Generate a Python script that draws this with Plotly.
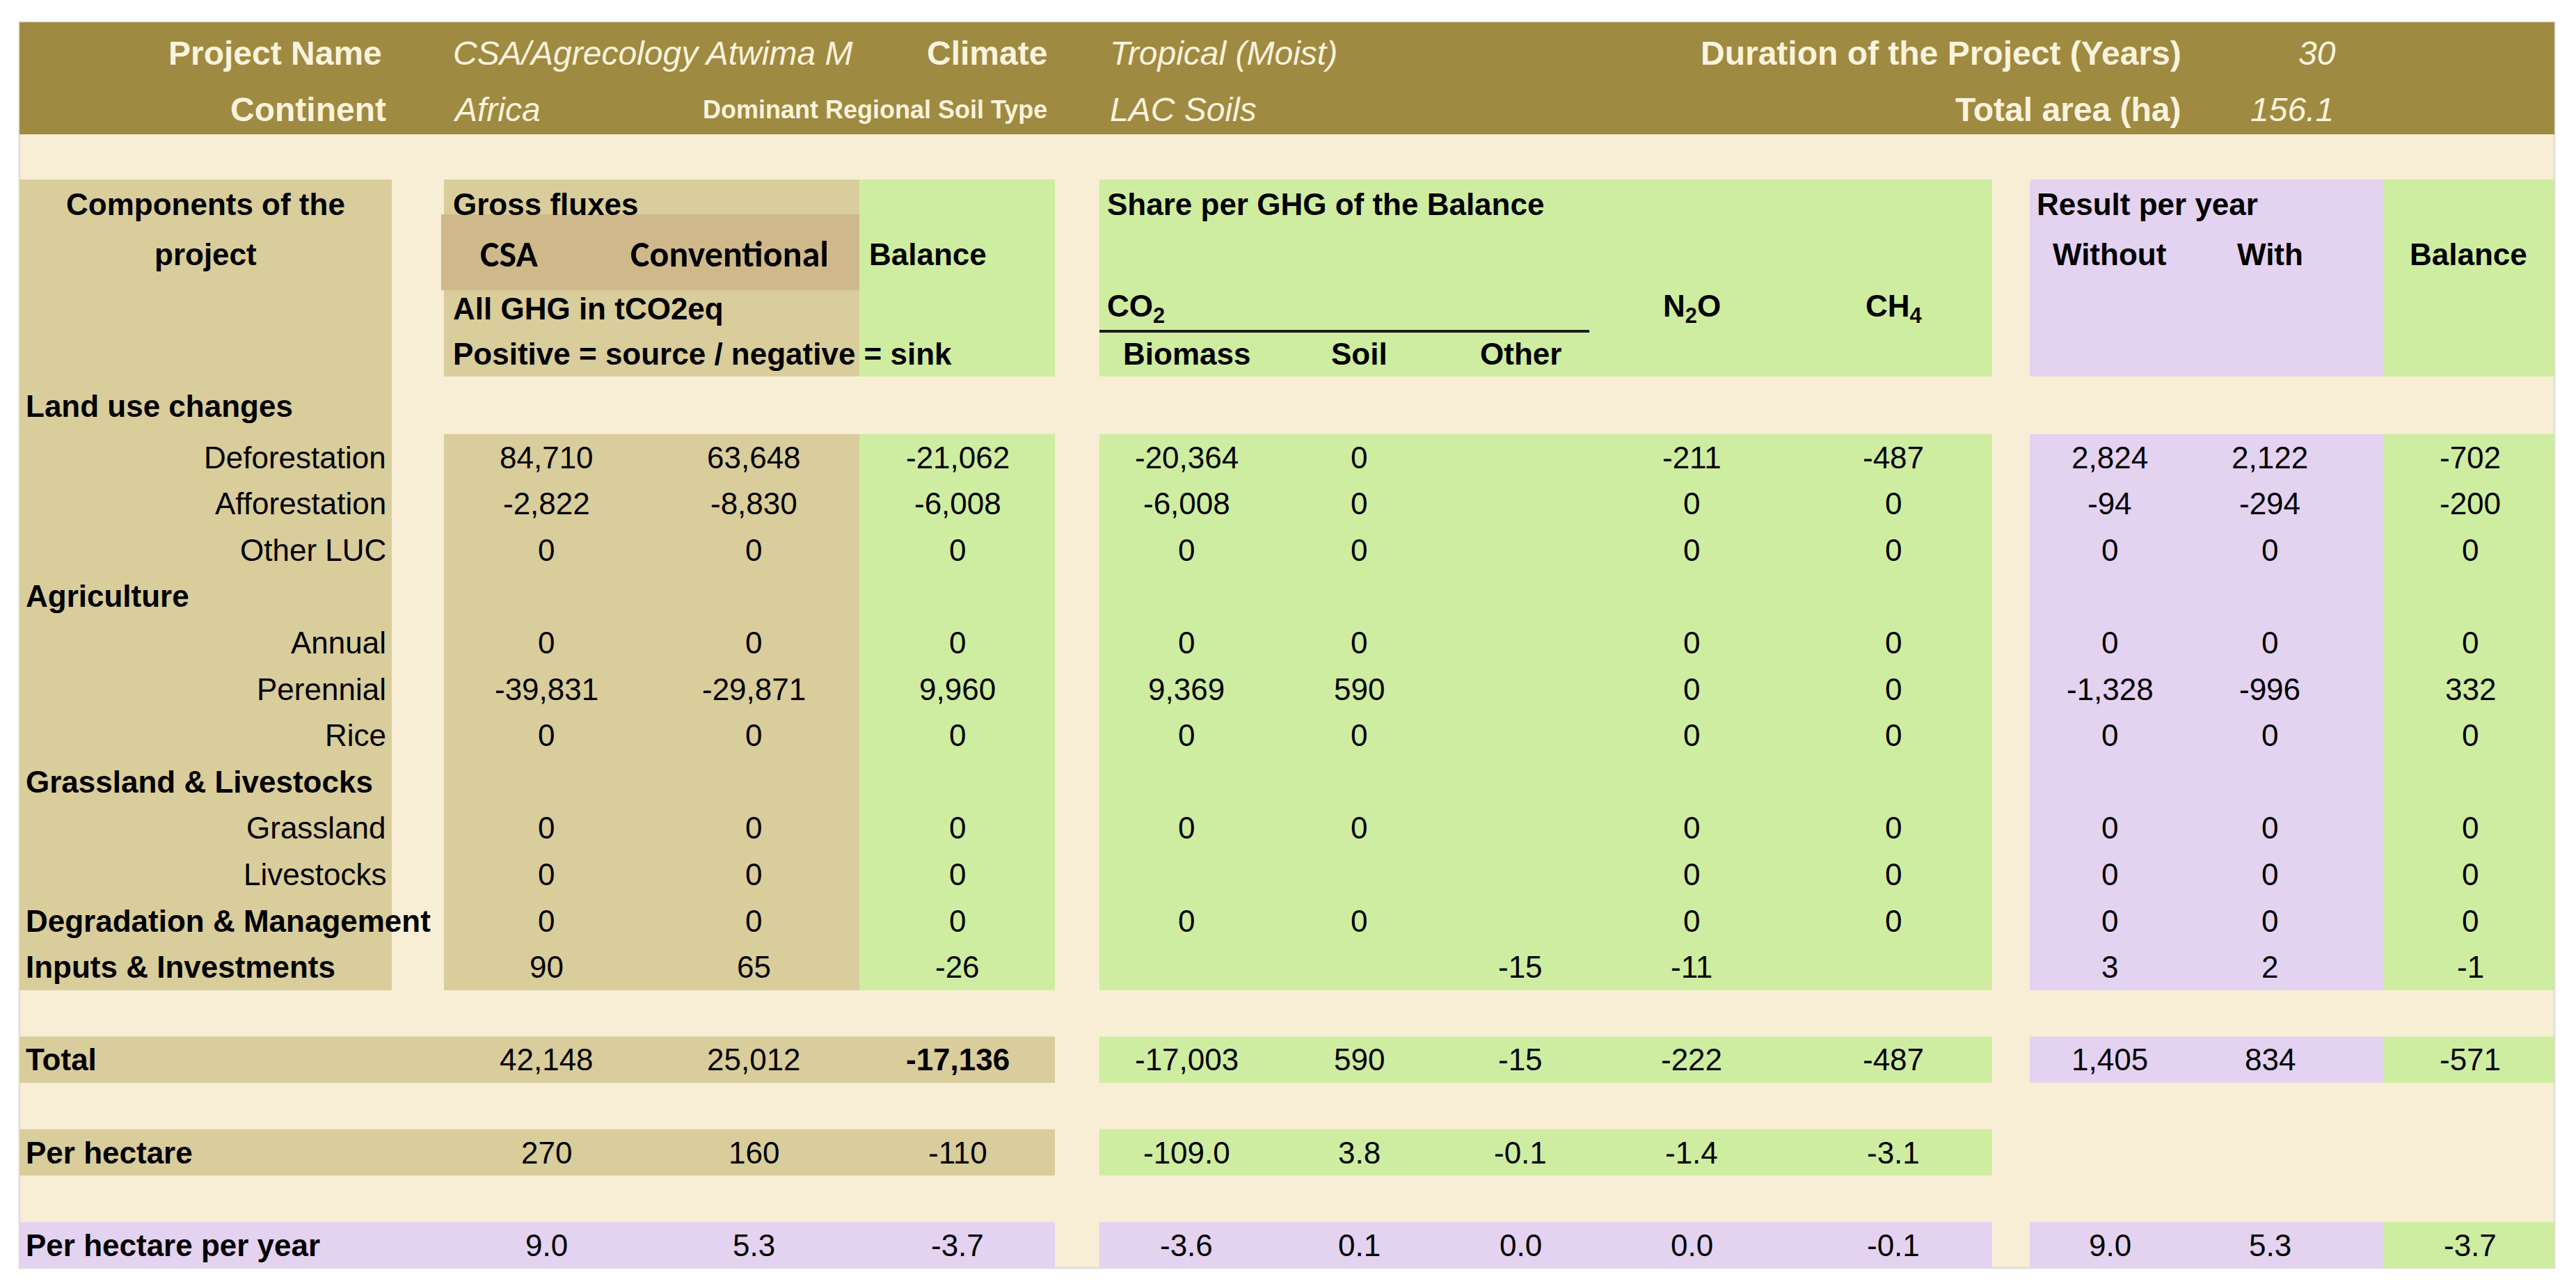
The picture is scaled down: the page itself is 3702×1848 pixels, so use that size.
import plotly.graph_objects as go

# --- project header -------------------------------------------------------
project_name = "CSA/Agrecology Atwima M"
continent = "Africa"
climate = "Tropical (Moist)"
soil_type = "LAC Soils"
duration_years = 30
total_area_ha = 156.1

# --- components (first entry is the "Land use changes" group row) ---------
components = ["Land use changes", "Deforestation", "Afforestation", "Other LUC",
              "Agriculture", "Annual", "Perennial", "Rice",
              "Grassland & Livestocks", "Grassland", "Livestocks",
              "Degradation & Management", "Inputs & Investments"]
is_group = [True, False, False, False, True, False, False, False,
            True, False, False, True, True]

# gross fluxes, all GHG in tCO2eq
csa = [None, 84710, -2822, 0, None, 0, -39831, 0, None, 0, 0, 0, 90]
conventional = [None, 63648, -8830, 0, None, 0, -29871, 0, None, 0, 0, 0, 65]
balance = [None, -21062, -6008, 0, None, 0, 9960, 0, None, 0, 0, 0, -26]

# share per GHG of the balance
co2_biomass = [None, -20364, -6008, 0, None, 0, 9369, 0, None, 0, None, 0, None]
co2_soil = [None, 0, 0, 0, None, 0, 590, 0, None, 0, None, 0, None]
co2_other = [None, None, None, None, None, None, None, None, None, None, None, None, -15]
n2o = [None, -211, 0, 0, None, 0, 0, 0, None, 0, 0, 0, -11]
ch4 = [None, -487, 0, 0, None, 0, 0, 0, None, 0, 0, 0, None]

# result per year
year_without = [None, 2824, -94, 0, None, 0, -1328, 0, None, 0, 0, 0, 3]
year_with = [None, 2122, -294, 0, None, 0, -996, 0, None, 0, 0, 0, 2]
year_balance = [None, -702, -200, 0, None, 0, 332, 0, None, 0, 0, 0, -1]

# summary rows (same column order as above; None = empty)
total_row = [42148, 25012, -17136, -17003, 590, -15, -222, -487, 1405, 834, -571]
per_ha_row = [270, 160, -110, -109.0, 3.8, -0.1, -1.4, -3.1, None, None, None]
per_ha_year_row = [9.0, 5.3, -3.7, -3.6, 0.1, 0.0, 0.0, -0.1, 9.0, 5.3, -3.7]

# --- look ------------------------------------------------------------------
OLIVE = "#9F8A42"
CREAM = "#F8EED6"
TAN = "#D9CD9B"
TAN_DARK = "#CFB98B"
GREEN = "#CFEDA1"
LILAC = "#E4D2F1"
HEAD_TXT = "#FBF3DC"
FONT = "Liberation Sans, Arial, sans-serif"
FS = 44       # body text
FS_HEAD = 48  # olive header band

W, H = 3702, 1848
PAD = 8  # browser body margin, the axes are set so data units = page pixels
# column blocks (pixels of the page)
LAB = (28, 563)
GROSS = (638, 1235)
BAL = (1235, 1516)
SHARE = (1580, 2863)
YEAR = (2917, 3426)
YBAL = (3426, 3671)
# value column centres
col_x = [785, 1083, 1376, 1705, 1953, 2185, 2431, 2721, 3032, 3262, 3550]

TOP, BOTTOM = 32, 1822
HEAD_BAND = (32, 193)
HEAD_BLOCK = (258, 541)
ROW_H = 66.6
FIRST_Y = 657  # centre of the Deforestation row
head_y = [293, 365, 443, 508]


def row_y(k):
    return FIRST_Y + ROW_H * k


fig = go.Figure()
fig.add_trace(go.Scatter(x=[PAD, W - PAD], y=[PAD, H - PAD], mode="markers",
                         marker=dict(opacity=0, size=1), hoverinfo="skip", showlegend=False))

shapes = []


def box(x0, x1, y0, y1, color):
    shapes.append(dict(type="rect", xref="x", yref="y", x0=x0, x1=x1, y0=y0, y1=y1,
                       fillcolor=color, line=dict(width=0), layer="below"))


# page background and header band
shapes.append(dict(type="rect", xref="x", yref="y", x0=LAB[0], x1=YBAL[1], y0=TOP, y1=BOTTOM,
                   fillcolor=CREAM, line=dict(color="#E2E0DA", width=3), layer="below"))
box(LAB[0], YBAL[1], HEAD_BAND[0], HEAD_BAND[1], OLIVE)

body_top = row_y(0) - ROW_H / 2
body_bot = row_y(len(components) - 2) + ROW_H / 2

# label column runs from the column header down to the last component
box(LAB[0], LAB[1], HEAD_BLOCK[0], body_bot, TAN)
for (y0, y1) in [HEAD_BLOCK, (body_top, body_bot)]:
    box(GROSS[0], GROSS[1], y0, y1, TAN)
    box(BAL[0], BAL[1], y0, y1, GREEN)
    box(SHARE[0], SHARE[1], y0, y1, GREEN)
    box(YEAR[0], YEAR[1], y0, y1, LILAC)
    box(YBAL[0], YBAL[1], y0, y1, GREEN)
box(634, GROSS[1], 308, 417, TAN_DARK)

# summary bands
summary = [("Total", total_row, 13, [TAN, GREEN, LILAC, GREEN]),
           ("Per hectare", per_ha_row, 15, [TAN, GREEN, None, None]),
           ("Per hectare per year", per_ha_year_row, 17, [LILAC, LILAC, LILAC, GREEN])]
for label, vals, k, cols in summary:
    y0, y1 = row_y(k) - ROW_H / 2, row_y(k) + ROW_H / 2
    for (x0, x1), c in zip([(LAB[0], BAL[1]), SHARE, YEAR, YBAL], cols):
        if c:
            box(x0, x1, y0, y1, c)

# CO2 underline
shapes.append(dict(type="line", xref="x", yref="y", x0=SHARE[0], x1=2284, y0=476, y1=476,
                   line=dict(color="#1A1A1A", width=4)))

ann = []


def txt(x, y, s, anchor="center", size=FS, color="black", weight="normal",
        style="normal", family=FONT):
    ann.append(dict(x=x, y=y, xref="x", yref="y", text=s, showarrow=False,
                    xanchor=anchor, yanchor="middle",
                    font=dict(family=family, size=size, color=color,
                              weight=weight, style=style)))


# header band
hy1, hy2 = 76, 157
txt(551, hy1, "Project Name", "right", FS_HEAD, HEAD_TXT, "bold")
txt(649, hy1, project_name, "left", FS_HEAD, HEAD_TXT, style="italic")
txt(1507, hy1, "Climate", "right", FS_HEAD, HEAD_TXT, "bold")
txt(1593, hy1, climate, "left", FS_HEAD, HEAD_TXT, style="italic")
txt(3137, hy1, "Duration of the Project (Years)", "right", FS_HEAD, HEAD_TXT, "bold")
txt(3359, hy1, str(duration_years), "right", FS_HEAD, HEAD_TXT, style="italic")
txt(557, hy2, "Continent", "right", FS_HEAD, HEAD_TXT, "bold")
txt(649, hy2, continent, "left", FS_HEAD, HEAD_TXT, style="italic")
txt(1507, hy2, "Dominant Regional Soil Type", "right", 36, HEAD_TXT, "bold")
txt(1593, hy2, soil_type, "left", FS_HEAD, HEAD_TXT, style="italic")
txt(3137, hy2, "Total area (ha)", "right", FS_HEAD, HEAD_TXT, "bold")
txt(3356, hy2, f"{total_area_ha:.1f}", "right", FS_HEAD, HEAD_TXT, style="italic")

# column headers
txt(295, head_y[0], "Components of the", weight="bold")
txt(295, head_y[1], "project", weight="bold")
txt(649, head_y[0], "Gross fluxes", "left", weight="bold")
txt(731, head_y[1], "CSA", size=52, weight="bold", family="Carlito, Lato, sans-serif")
txt(1048, head_y[1], "Conventional", size=52, weight="bold", family="Carlito, Lato, sans-serif")
txt(1247, head_y[1], "Balance", "left", weight="bold")
txt(649, head_y[2], "All GHG in tCO2eq", "left", weight="bold")
txt(649, head_y[3], "Positive = source / negative = sink", "left", weight="bold")
txt(1589, head_y[0], "Share per GHG of the Balance", "left", weight="bold")
txt(1589, head_y[2], "CO<sub>2</sub>", "left", weight="bold")
txt(col_x[3], head_y[3], "Biomass", weight="bold")
txt(col_x[4], head_y[3], "Soil", weight="bold")
txt(col_x[5], head_y[3], "Other", weight="bold")
txt(col_x[6], head_y[2], "N<sub>2</sub>O", weight="bold")
txt(col_x[7], head_y[2], "CH<sub>4</sub>", weight="bold")
txt(2925, head_y[0], "Result per year", "left", weight="bold")
txt(col_x[8], head_y[1], "Without", weight="bold")
txt(col_x[9], head_y[1], "With", weight="bold")
txt(col_x[10] - 3, head_y[1], "Balance", weight="bold")

# component rows
columns = [csa, conventional, balance, co2_biomass, co2_soil, co2_other,
           n2o, ch4, year_without, year_with, year_balance]
for i, name in enumerate(components):
    y = 583 if i == 0 else row_y(i - 1)
    if is_group[i]:
        txt(35, y, name, "left", weight="bold")
    else:
        txt(557, y, name, "right")
    for cx, col in zip(col_x, columns):
        v = col[i]
        if v is not None:
            txt(cx, y, f"{v:,.0f}")

# summary rows
for label, vals, k, cols in summary:
    y = row_y(k)
    txt(35, y, label, "left", weight="bold")
    for j, (cx, v) in enumerate(zip(col_x, vals)):
        if v is None:
            continue
        if label == "Total":
            s = f"{v:,.0f}"
        elif label == "Per hectare":
            s = f"{v:,.0f}" if j < 3 else f"{v:.1f}"
        else:
            s = f"{v:.1f}"
        txt(cx, y, s, weight="bold" if (label == "Total" and j == 2) else "normal")

fig.update_layout(
    width=W - 2 * PAD, height=H - 2 * PAD,
    margin=dict(l=0, r=0, t=0, b=0),
    paper_bgcolor="white", plot_bgcolor="white",
    xaxis=dict(range=[PAD, W - PAD], visible=False, fixedrange=True),
    yaxis=dict(range=[H - PAD, PAD], visible=False, fixedrange=True),
    shapes=shapes, annotations=ann, showlegend=False,
)

fig.write_html("out.html")
